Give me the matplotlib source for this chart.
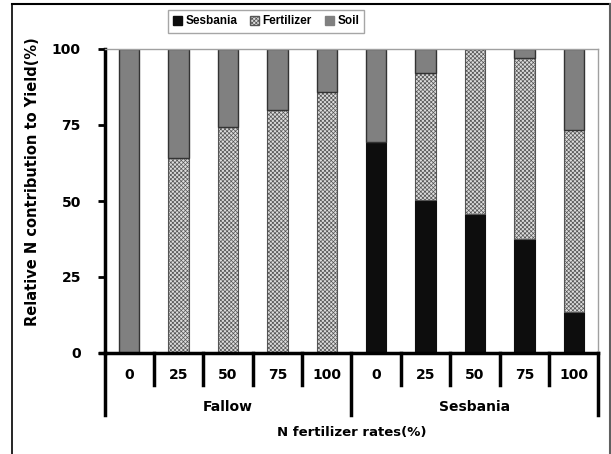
import matplotlib
matplotlib.use("Agg")
import matplotlib.pyplot as plt
from matplotlib.patches import Patch
from matplotlib.lines import Line2D
import matplotlib.transforms as mtransforms
import numpy as np

plt.rcParams['hatch.linewidth'] = 0.5
plt.rcParams['hatch.color'] = '#6a6a6a'

groups = ["Fallow", "Sesbania"]
rates = ["0", "25", "50", "75", "100"]
sesbania = [0, 0, 0, 0, 0, 69.5, 50.3, 45.6, 37.5, 13.5]
fertilizer = [0, 64, 74.5, 80, 86, 0, 41.7, 54.4, 59.5, 59.7]
soil = [100, 36, 25.5, 20, 14, 30.5, 8.0, 0, 3.0, 26.8]

fig = plt.figure(figsize=(6.11, 4.54), dpi=100)
W, H = 611, 454
ax = fig.add_axes([104.5 / W, 1 - 353 / H, (598.5 - 104.5) / W, (353 - 49) / H])

x = np.arange(len(sesbania))
bw = 0.41
ses = np.array(sesbania)
fer = np.array(fertilizer)
soi = np.array(soil)
ax.bar(x, ses, bw, color='#0d0d0d', edgecolor='#0d0d0d', linewidth=0.8)
ax.bar(x, fer, bw, bottom=ses, color='#dcdcdc', edgecolor='#555555', hatch='xxxxxxxx', linewidth=0.8)
ax.bar(x, soi, bw, bottom=ses + fer, color='#808080', edgecolor='#333333', linewidth=1.0)

ax.set_xlim(-0.5, len(x) - 0.5)
ax.set_ylim(0, 100)
ax.set_yticks([0, 25, 50, 75, 100])
ax.set_yticklabels(["0", "25", "50", "75", "100"], fontsize=10, fontweight='bold')
ax.tick_params(axis='y', length=5, width=2, pad=12, direction='out')
ax.set_xticks([])
for s in ['left', 'bottom']:
    ax.spines[s].set_linewidth(2.5)
    ax.spines[s].set_color('black')
for s in ['top', 'right']:
    ax.spines[s].set_linewidth(1.0)
    ax.spines[s].set_color('#a0a0a0')

ax.set_ylabel("Relative N contribution to Yield(%)", fontsize=10.5, fontweight='bold')
ax.yaxis.set_label_coords(-0.1306, 0.5625)

trans = mtransforms.blended_transform_factory(ax.transData, ax.transAxes)
ax.plot([-0.6, -0.5], [0, 0], transform=trans, color='black', lw=2.5, clip_on=False)
for i in range(len(x) + 1):
    pos = i - 0.5
    if i % 5 == 0:
        ax.plot([pos, pos], [0, -0.204], transform=trans, color='black', lw=2.5, clip_on=False)
    else:
        ax.plot([pos, pos], [0, -0.105], transform=trans, color='black', lw=2.5, clip_on=False)

labels = rates * len(groups)
for i, lab in enumerate(labels):
    ax.text(i, -0.072, lab, transform=trans, ha='center', va='center', fontsize=10, fontweight='bold')
for g, name in enumerate(groups):
    ax.text(g * 5 + 2, -0.178, name, transform=trans, ha='center', va='center', fontsize=10, fontweight='bold')
ax.text(0.5, -0.262, "N fertilizer rates(%)", transform=ax.transAxes, ha='center', va='center',
        fontsize=9.5, fontweight='bold')

handles = [Patch(facecolor='#0d0d0d', edgecolor='#0d0d0d', label='Sesbania'),
           Patch(facecolor='#dcdcdc', edgecolor='#555555', hatch='xxxxxxxx', label='Fertilizer'),
           Patch(facecolor='#808080', edgecolor='#808080', label='Soil')]
leg = fig.legend(handles=handles, loc='center', bbox_to_anchor=(266 / W, 1 - 21.5 / H), ncol=3,
                 prop={'family': 'Liberation Sans', 'weight': 'bold', 'size': 8.5},
                 handlelength=0.75, handleheight=0.75,
                 handletextpad=0.3, columnspacing=1.1, fancybox=False, frameon=True,
                 borderpad=0.45, edgecolor='#909090')
leg.get_frame().set_linewidth(1.0)

fig.add_artist(Line2D([12 / W, 12 / W], [0, 1 - 4 / H], color='black', lw=1.2))
fig.add_artist(Line2D([12 / W, 609.5 / W], [1 - 4 / H, 1 - 4 / H], color='black', lw=1.5))
fig.add_artist(Line2D([609.5 / W, 609.5 / W], [0, 1 - 4 / H], color='#606060', lw=1.5))

fig.savefig("out.png", dpi=100)
